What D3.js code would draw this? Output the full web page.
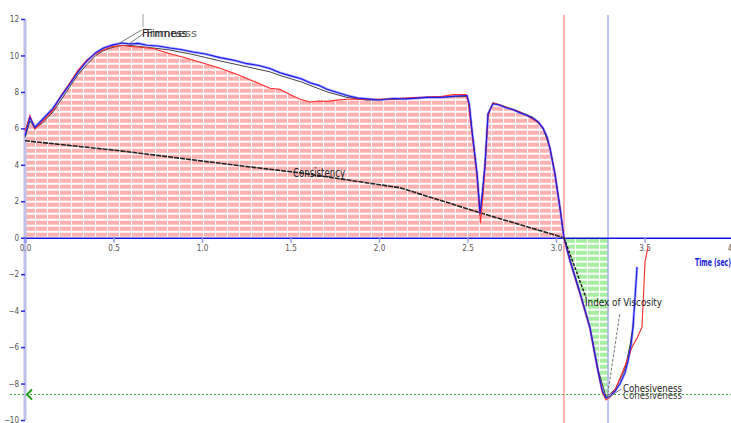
<!DOCTYPE html>
<html>
<head>
<meta charset="utf-8">
<script src="https://cdn.jsdelivr.net/npm/d3@7"></script>
<style>
  body { margin: 0; background: #fff; }
  svg { display: block; }
  .tick text { font-family: "Liberation Sans Narrow", "DejaVu Sans Condensed", sans-serif; fill: #555; }
  .lbl { font-family: "Liberation Sans Narrow", "DejaVu Sans Condensed", sans-serif; fill: #222; }
</style>
</head>
<body>
<div id="chart"></div>
<script>
// force (y) vs time (sec) for the three runs
var blueCurve = [[0,5.6],[0.028,6.6],[0.056,6.05],[0.1,6.5],[0.158,7.1],[0.2,7.7],[0.254,8.45],[0.3,9.1],[0.35,9.7],[0.4,10.15],[0.441,10.4],[0.497,10.58],[0.55,10.68],[0.593,10.63],[0.64,10.66],[0.689,10.56],[0.75,10.52],[0.819,10.41],[0.88,10.33],[0.949,10.19],[1.02,10.08],[1.102,9.88],[1.18,9.74],[1.254,9.55],[1.32,9.45],[1.384,9.28],[1.441,9.05],[1.5,8.88],[1.56,8.72],[1.61,8.5],[1.66,8.36],[1.706,8.15],[1.76,7.98],[1.819,7.8],[1.88,7.66],[1.932,7.62],[2.0,7.56],[2.079,7.64],[2.15,7.62],[2.271,7.7],[2.35,7.7],[2.42,7.76],[2.497,7.8],[2.51,7.3],[2.525,5.9],[2.554,3.5],[2.571,1.3],[2.585,2.5],[2.599,4.0],[2.616,6.8],[2.644,7.35],[2.68,7.28],[2.723,7.12],[2.76,7.02],[2.797,6.85],[2.835,6.72],[2.87,6.55],[2.9,6.35],[2.927,6.0],[2.95,5.5],[2.966,4.9],[2.994,3.5],[3.023,1.6],[3.045,0],[3.079,-1.25],[3.136,-3.05],[3.192,-4.95],[3.237,-7.3],[3.262,-8.4],[3.283,-8.8],[3.305,-8.7],[3.335,-8.4],[3.362,-8.0],[3.39,-7.4],[3.407,-6.75],[3.425,-5.8],[3.435,-4.9],[3.445,-3.5],[3.458,-1.6]];
var redCurve = [[0,5.85],[0.028,6.7],[0.056,5.95],[0.1,6.4],[0.158,7.0],[0.2,7.75],[0.254,8.5],[0.3,9.2],[0.35,9.75],[0.4,10.1],[0.441,10.3],[0.497,10.5],[0.55,10.55],[0.593,10.5],[0.65,10.45],[0.723,10.38],[0.8,10.15],[0.915,9.85],[1.0,9.6],[1.102,9.3],[1.2,8.95],[1.288,8.6],[1.384,8.2],[1.441,8.15],[1.5,7.85],[1.554,7.6],[1.61,7.45],[1.66,7.5],[1.706,7.48],[1.76,7.55],[1.819,7.6],[1.88,7.62],[1.932,7.58],[2.0,7.6],[2.079,7.62],[2.15,7.66],[2.271,7.72],[2.35,7.75],[2.42,7.85],[2.49,7.85],[2.505,7.4],[2.525,5.8],[2.554,3.3],[2.573,0.8],[2.587,2.3],[2.6,4.0],[2.616,6.7],[2.644,7.4],[2.68,7.3],[2.723,7.15],[2.76,7.0],[2.797,6.9],[2.835,6.7],[2.87,6.5],[2.9,6.3],[2.927,6.0],[2.95,5.5],[2.966,4.9],[2.994,3.5],[3.023,1.6],[3.045,0],[3.079,-1.3],[3.136,-3.1],[3.192,-5.0],[3.237,-7.35],[3.262,-8.5],[3.283,-8.9],[3.305,-8.75],[3.34,-8.2],[3.37,-7.5],[3.401,-6.75],[3.43,-6.0],[3.458,-5.5],[3.486,-4.9],[3.495,-3.0],[3.503,-1.3],[3.52,-0.5]];
var blackCurve = [[0,5.5],[0.028,6.4],[0.056,6.0],[0.1,6.3],[0.158,6.9],[0.2,7.5],[0.254,8.3],[0.3,8.95],[0.35,9.5],[0.4,10.0],[0.441,10.25],[0.497,10.45],[0.55,10.55],[0.593,10.55],[0.689,10.45],[0.819,10.3],[0.949,10.05],[1.102,9.7],[1.254,9.38],[1.384,9.1],[1.441,8.9],[1.56,8.55],[1.706,8.0],[1.819,7.7],[1.932,7.55],[2.079,7.6],[2.271,7.7],[2.497,7.75],[2.51,7.3],[2.525,5.9],[2.554,3.5],[2.571,1.4],[2.585,2.5],[2.599,4.0],[2.616,6.8],[2.644,7.4],[2.723,7.15],[2.797,6.9],[2.87,6.6],[2.927,6.0],[2.966,4.9],[2.994,3.5],[3.023,1.6],[3.045,0],[3.079,-1.2],[3.136,-3.0],[3.192,-4.9],[3.237,-7.2],[3.283,-8.75],[3.335,-8.3],[3.39,-7.2],[3.42,-5.8],[3.44,-4.6]];
var consistencyCurve = [[0,5.32],[0.537,4.77],[1.215,3.95],[1.554,3.56],[2.119,2.74],[2.571,1.37],[3.045,0]];
var viscosityLeader = [[3.045,0],[3.17,-3.3]];
var viscosityLeader2 = [[3.36,-4.2],[3.29,-8.7]];
var cohesivenessLeader = [[3.29,-8.8],[3.37,-8.3]];
var firmnessLeaders = [[[0.52,10.6],[0.66,11.4]], [[0.59,10.65],[0.67,11.2]]];
var markerTimes = [3.045, 3.294];
var cohesivenessLevel = -8.6;
var xTicks = [0, 0.5, 1, 1.5, 2, 2.5, 3, 3.5, 4];
var yTicks = [12, 10, 8, 6, 4, 2, 0, -2, -4, -6, -8, -10];

var width = 731, height = 423;
var svg = d3.select('#chart').append('svg').attr('width', width).attr('height', height);

var x = d3.scaleLinear().domain([0, 4]).range([25, 733]);
var y = d3.scaleLinear().domain([-10, 12]).range([420, 19]);

var defs = svg.append('defs');
function hatch(id, col) {
  var p = defs.append('pattern').attr('id', id)
    .attr('patternUnits', 'userSpaceOnUse')
    .attr('width', 12).attr('height', 6)
    .attr('patternTransform', 'translate(0,' + (y(0) % 6 + 1) + ')');
  p.append('rect').attr('x', 0).attr('y', 0).attr('width', 11).attr('height', 4).attr('fill', col);
}
hatch('hatchRed', '#ffb0b0');
hatch('hatchGreen', '#a6eea0');

defs.append('clipPath').attr('id', 'greenClip').append('rect')
  .attr('x', x(markerTimes[0])).attr('y', y(0))
  .attr('width', x(markerTimes[1]) - x(markerTimes[0])).attr('height', 200);

var area = d3.area().x(function(d) { return x(d[0]); }).y0(y(0)).y1(function(d) { return y(d[1]); });
var line = d3.line().x(function(d) { return x(d[0]); }).y(function(d) { return y(d[1]); });

// red hatched area (positive part)
svg.append('path')
  .datum(redCurve.filter(function(d) { return d[0] <= markerTimes[0]; }))
  .attr('d', area).attr('fill', 'url(#hatchRed)');

// green hatched area (negative part between markers)
svg.append('path')
  .datum(blueCurve.filter(function(d) { return d[0] >= markerTimes[0]; }))
  .attr('d', area).attr('fill', 'url(#hatchGreen)').attr('clip-path', 'url(#greenClip)');

// marker lines
svg.append('line').attr('x1', x(markerTimes[0])).attr('x2', x(markerTimes[0]))
  .attr('y1', 15).attr('y2', height).attr('stroke', '#ff8888').attr('stroke-width', 1.3);
svg.append('line').attr('x1', x(markerTimes[1])).attr('x2', x(markerTimes[1]))
  .attr('y1', 15).attr('y2', height).attr('stroke', '#a8aef0').attr('stroke-width', 1.5);

// y axis
svg.append('line').attr('x1', 25).attr('x2', 25).attr('y1', y(12)).attr('y2', y(-10))
  .attr('stroke', '#c0c0ec').attr('stroke-width', 3);
var yAxis = svg.append('g').attr('transform', 'translate(25,0)')
  .call(d3.axisLeft(y).tickValues(yTicks).tickSize(4).tickPadding(2).tickFormat(d3.format('d')));
yAxis.select('.domain').remove();
yAxis.selectAll('.tick line').attr('stroke', '#2a2ae0').attr('stroke-width', 1.5);
yAxis.selectAll('.tick text').attr('font-size', 8);

// cohesiveness level
svg.append('line').attr('x1', 10).attr('x2', width).attr('y1', y(cohesivenessLevel)).attr('y2', y(cohesivenessLevel))
  .attr('stroke', '#44aa44').attr('stroke-width', 1).attr('stroke-dasharray', '2,2');
svg.append('path')
  .attr('d', 'M' + (x(0) + 7) + ',' + (y(cohesivenessLevel) - 5) + 'L' + (x(0) + 2) + ',' + y(cohesivenessLevel) + 'L' + (x(0) + 7) + ',' + (y(cohesivenessLevel) + 5))
  .attr('fill', 'none').attr('stroke', '#1e9a1e').attr('stroke-width', 2);

// x axis
var xAxis = svg.append('g').attr('transform', 'translate(0,' + y(0) + ')')
  .call(d3.axisBottom(x).tickValues(xTicks).tickSize(5).tickPadding(3).tickFormat(d3.format('.1f')));
xAxis.select('.domain').attr('stroke', '#1010e0').attr('stroke-width', 1.5);
xAxis.selectAll('.tick line').attr('stroke', '#9a9aee').attr('stroke-width', 1.5);
xAxis.selectAll('.tick text').attr('font-size', 8);

svg.append('text').attr('class', 'lbl').attr('x', 695).attr('y', 266)
  .attr('font-size', 10).attr('font-weight', 'bold').style('fill', '#2020e0')
  .attr('textLength', 36).attr('lengthAdjust', 'spacingAndGlyphs').text('Time (sec)');

// consistency line
svg.append('path').datum(consistencyCurve).attr('d', line)
  .attr('fill', 'none').attr('stroke', '#222').attr('stroke-width', 1.6).attr('stroke-dasharray', '5,1');

// the three runs
svg.append('path').datum(blueCurve).attr('d', line).attr('fill', 'none').attr('stroke', '#a8a8ff').attr('stroke-width', 2.6);
svg.append('path').datum(blackCurve).attr('d', line).attr('fill', 'none').attr('stroke', '#444').attr('stroke-width', 1);
svg.append('path').datum(redCurve).attr('d', line).attr('fill', 'none').attr('stroke', '#ff2a2a').attr('stroke-width', 1.1);
svg.append('path').datum(blueCurve).attr('d', line).attr('fill', 'none').attr('stroke', '#1a1af0').attr('stroke-width', 1.1);

// annotations
svg.append('path').datum(viscosityLeader).attr('d', line)
  .attr('stroke', '#222').attr('stroke-width', 1.5).attr('stroke-dasharray', '3,1.5');
svg.append('path').datum(viscosityLeader2).attr('d', line)
  .attr('stroke', '#777').attr('stroke-width', 1).attr('stroke-dasharray', '3,1.5');
svg.append('path').datum(cohesivenessLeader).attr('d', line)
  .attr('stroke', '#777').attr('stroke-width', 1);
firmnessLeaders.forEach(function(l) {
  svg.append('path').datum(l).attr('d', line).attr('stroke', '#555').attr('stroke-width', 0.8);
});
svg.append('line').attr('x1', 143).attr('x2', 143).attr('y1', 14).attr('y2', 27).attr('stroke', '#888').attr('stroke-width', 0.8);

function label(txt, lx, ly, fs, len, col) {
  svg.append('text').attr('class', 'lbl').attr('x', lx).attr('y', ly)
    .attr('font-size', fs).attr('textLength', len).attr('lengthAdjust', 'spacingAndGlyphs')
    .style('fill', col || '#222').text(txt);
}
label('Firmness', 146, 37, 11, 51, '#666');
label('Firmness', 142, 37, 11, 45, '#222');
label('Consistency', 293, 177, 12, 52);
label('Index of Viscosity', 585, 306, 11, 77);
label('Cohesiveness', 623, 392, 11, 59);
label('Cohesiveness', 623, 399, 11, 59, '#444');
</script>
</body>
</html>
